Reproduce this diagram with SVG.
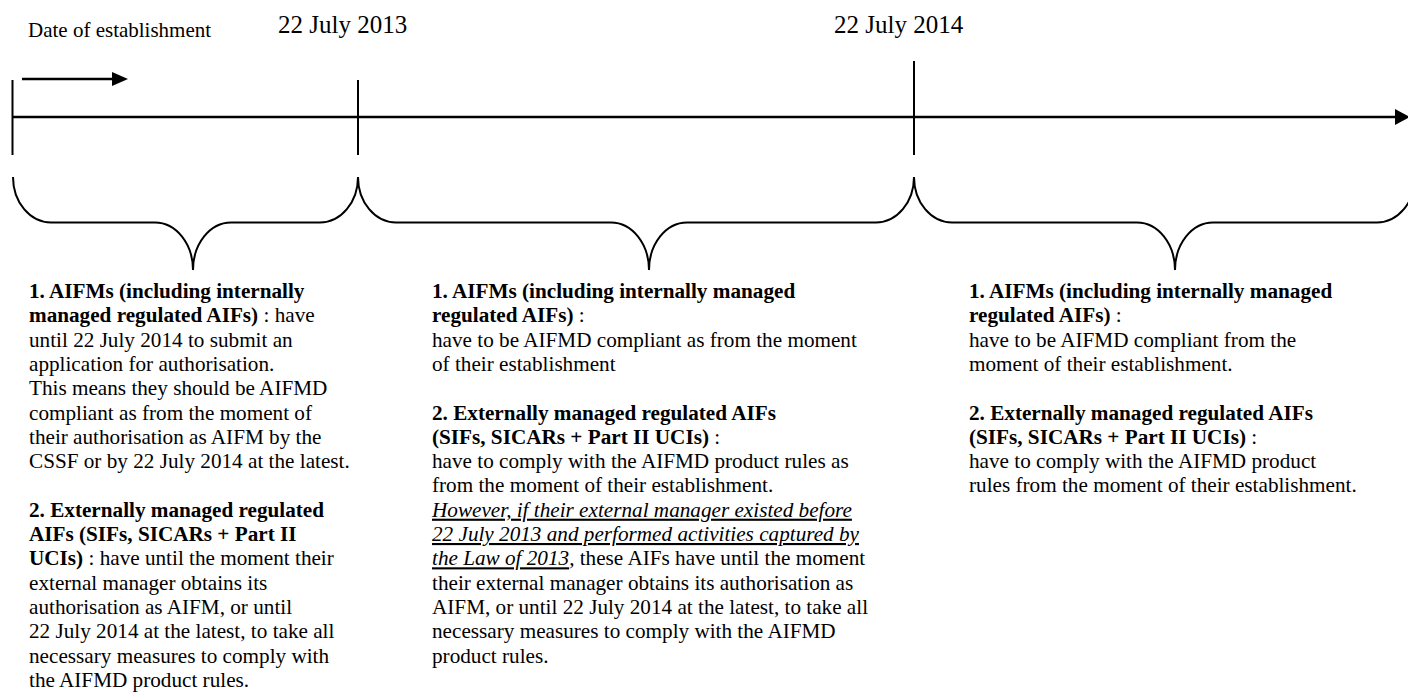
<svg xmlns="http://www.w3.org/2000/svg" width="1408" height="693" viewBox="0 0 1408 693">
<style>
  .t { font-family: "Liberation Serif", "Times New Roman", serif; fill: #000; }
  .body { font-size: 21.2px; }
  .b { font-weight: bold; }
  .iu { font-style: italic; text-decoration: underline; }
  .i { font-style: italic; }
  .date { font-size: 25px; }
  .line { stroke: #000; fill: none; }
  .brace { stroke: #000; fill: none; stroke-width: 2; }
</style>
<rect width="1408" height="693" fill="#fff"/>

<g id="labels">
  <text class="t" x="28" y="37" font-size="21">Date of establishment</text>
  <text class="t date" x="278" y="33">22 July 2013</text>
  <text class="t date" x="834" y="33">22 July 2014</text>
</g>

<g id="connectors">
  <line class="line" x1="12" y1="117" x2="1396" y2="117" stroke-width="2.6"/>
  <path d="M1395,109 L1410,117 L1395,125 Z" fill="#000"/>
  <line class="line" x1="22" y1="79" x2="113" y2="79" stroke-width="2.6"/>
  <path d="M112,72 L128,79 L112,86 Z" fill="#000"/>
  <line class="line" x1="12.5" y1="80" x2="12.5" y2="155" stroke-width="2"/>
  <line class="line" x1="358" y1="80" x2="358" y2="155" stroke-width="2"/>
  <line class="line" x1="914" y1="61" x2="914" y2="155" stroke-width="2"/>
  <path class="brace" d="M13,177 A38,45.5 0 0 0 51,222.5 L155,222.5 A38,47.5 0 0 1 193,270 A38,47.5 0 0 1 231,222.5 L320,222.5 A38,45.5 0 0 0 358,177"/>
  <path class="brace" d="M358,177 A38,45.5 0 0 0 396,222.5 L611,222.5 A38,47.5 0 0 1 649,270 A38,47.5 0 0 1 687,222.5 L876,222.5 A38,45.5 0 0 0 914,177"/>
  <path class="brace" d="M914,177 A38,45.5 0 0 0 952,222.5 L1137,222.5 A38,47.5 0 0 1 1175,270 A38,47.5 0 0 1 1213,222.5 L1377,222.5 A38,45.5 0 0 0 1415,177"/>
</g>

<g id="period1">
  <text class="t body">
    <tspan x="29" y="298" class="b">1. AIFMs (including internally</tspan>
    <tspan x="29" y="322.3"><tspan class="b">managed regulated AIFs)</tspan> : have</tspan>
    <tspan x="29" y="346.6">until 22 July 2014 to submit an</tspan>
    <tspan x="29" y="370.9">application for authorisation.</tspan>
    <tspan x="29" y="395.2">This means they should be AIFMD</tspan>
    <tspan x="29" y="419.5">compliant as from the moment of</tspan>
    <tspan x="29" y="443.8">their authorisation as AIFM by the</tspan>
    <tspan x="29" y="468.1">CSSF or by 22 July 2014 at the latest.</tspan>
    <tspan x="29" y="516.7" class="b">2. Externally managed regulated</tspan>
    <tspan x="29" y="541" class="b">AIFs (SIFs, SICARs + Part II</tspan>
    <tspan x="29" y="565.3"><tspan class="b">UCIs)</tspan> : have until the moment their</tspan>
    <tspan x="29" y="589.6">external manager obtains its</tspan>
    <tspan x="29" y="613.9">authorisation as AIFM, or until</tspan>
    <tspan x="29" y="638.2">22 July 2014 at the latest, to take all</tspan>
    <tspan x="29" y="662.5">necessary measures to comply with</tspan>
    <tspan x="29" y="686.8">the AIFMD product rules.</tspan>
  </text>
</g>

<g id="period2">
  <text class="t body">
    <tspan x="432" y="298" class="b">1. AIFMs (including internally managed</tspan>
    <tspan x="432" y="322.3"><tspan class="b">regulated AIFs)</tspan> :</tspan>
    <tspan x="432" y="346.6">have to be AIFMD compliant as from the moment</tspan>
    <tspan x="432" y="370.9">of their establishment</tspan>
    <tspan x="432" y="419.5" class="b">2. Externally managed regulated AIFs</tspan>
    <tspan x="432" y="443.8"><tspan class="b">(SIFs, SICARs + Part II UCIs)</tspan> :</tspan>
    <tspan x="432" y="468.1">have to comply with the AIFMD product rules as</tspan>
    <tspan x="432" y="492.4">from the moment of their establishment.</tspan>
    <tspan x="432" y="516.7" class="iu">However, if their external manager existed before</tspan>
    <tspan x="432" y="541" class="iu">22 July 2013 and performed activities captured by</tspan>
    <tspan x="432" y="565.3"><tspan class="iu">the Law of 2013</tspan><tspan class="i">,</tspan> these AIFs have until the moment</tspan>
    <tspan x="432" y="589.6">their external manager obtains its authorisation as</tspan>
    <tspan x="432" y="613.9">AIFM, or until 22 July 2014 at the latest, to take all</tspan>
    <tspan x="432" y="638.2">necessary measures to comply with the AIFMD</tspan>
    <tspan x="432" y="662.5">product rules.</tspan>
  </text>
</g>

<g id="period3">
  <text class="t body">
    <tspan x="969" y="298" class="b">1. AIFMs (including internally managed</tspan>
    <tspan x="969" y="322.3"><tspan class="b">regulated AIFs)</tspan> :</tspan>
    <tspan x="969" y="346.6">have to be AIFMD compliant from the</tspan>
    <tspan x="969" y="370.9">moment of their establishment.</tspan>
    <tspan x="969" y="419.5" class="b">2. Externally managed regulated AIFs</tspan>
    <tspan x="969" y="443.8"><tspan class="b">(SIFs, SICARs + Part II UCIs)</tspan> :</tspan>
    <tspan x="969" y="468.1">have to comply with the AIFMD product</tspan>
    <tspan x="969" y="492.4">rules from the moment of their establishment.</tspan>
  </text>
</g>
</svg>
